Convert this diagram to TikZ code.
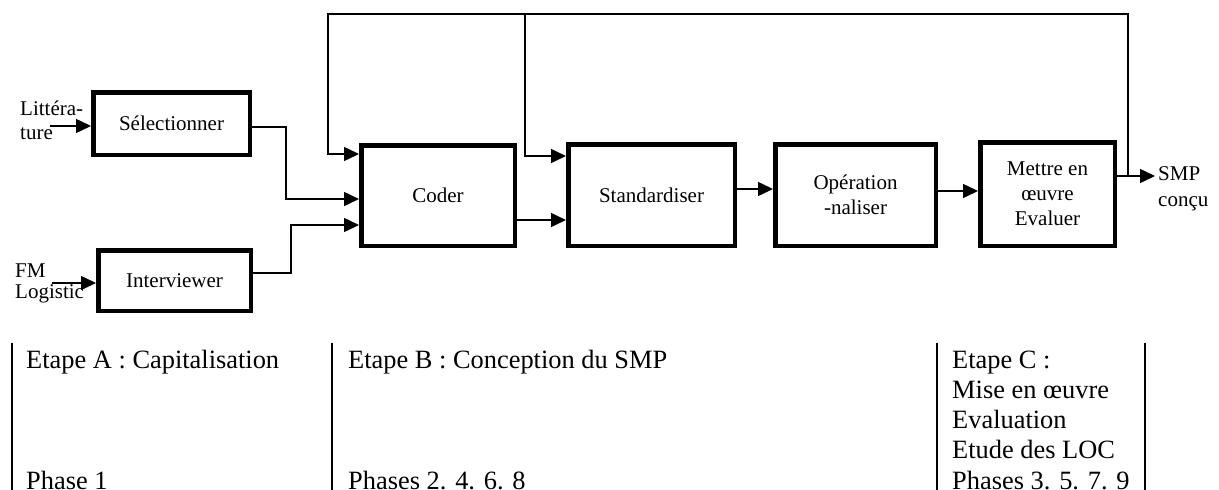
\documentclass[tikz,border=0pt]{standalone}
\usepackage{fontspec}
\setmainfont{Liberation Serif}
\usetikzlibrary{arrows.meta}
\tikzset{
 box/.style={draw, line width=4.5pt, inner sep=0pt, align=center, font=\fontsize{21}{25}\selectfont},
 conn/.style={line width=1.5pt, -{Triangle[length=15pt,width=14pt]}},
 wire/.style={line width=1.5pt},
 lbl/.style={inner sep=0pt, anchor=base west, font=\fontsize{21}{24}\selectfont},
 btxt/.style={inner sep=0pt, anchor=base west, font=\fontsize{26.4}{30}\selectfont},
 sepline/.style={line width=1.8pt}
}
\begin{document}
\begin{tikzpicture}[x=1pt,y=-1pt]
\useasboundingbox (0,0) rectangle (1219,490);
% boxes
\node[box, minimum width=156.5pt, minimum height=62.5pt] (sel) at (171.5,123.5) {Sélectionner};
\node[box, minimum width=152.5pt, minimum height=60.5pt] (int) at (174.5,280.5) {Interviewer};
\node[box, minimum width=153.5pt, minimum height=100.5pt] (coder) at (438,195.5) {Coder};
\node[box, minimum width=166.5pt, minimum height=101.5pt] (std) at (651.5,195) {Standardiser};
\node[box, minimum width=160.5pt, minimum height=101.5pt] (op) at (855.5,195) {Opération\\-naliser};
\node[box, minimum width=134.5pt, minimum height=103.5pt] (met) at (1047.5,194) {\raisebox{-3pt}{\parbox{130pt}{\centering Mettre en\\œuvre\\Evaluer}}};
% input labels
\node[lbl] (lit1) at (20,115) {Littéra-};
\node[lbl] (lit2) at (20,139) {ture};
\node[lbl] (fm1) at (15,277) {FM};
\node[lbl] (fm2) at (15,298) {Logistic};
\node[lbl] (smp1) at (1158,180) {SMP};
\node[lbl] (smp2) at (1158,206) {conçu};
% inputs
\coordinate (litin) at (50,126);
\coordinate (fmin) at (52,283);
\draw[conn] (litin) -- (sel.west |- litin);
\draw[conn] (fmin) -- (int.west |- fmin);
% to coder
\draw[conn] (sel.east |- 0,127) -| (286,199) -- (coder.west |- 0,199);
\draw[conn] (int.east |- 0,273) -| (291,225) -- (coder.west |- 0,225);
% chain
\draw[conn] (coder.east |- 0,220) -- (std.west |- 0,220);
\draw[conn] (std.east |- 0,189) -- (op.west |- 0,189);
\draw[conn] (op.east |- 0,191) -- (met.west |- 0,191);
% output
\coordinate (smpout) at (1155,176);
\coordinate (fb) at (1128,176);
\draw[conn] (met.east |- smpout) -- (smpout);
% feedback
\coordinate (fbl) at (328,14);
\coordinate (fbm) at (525,14);
\draw[conn] (fb) |- (fbl) |- (coder.west |- 0,154);
\draw[conn] (fbm) |- (std.west |- 0,156);
% bottom separators
\coordinate (s1t) at (12,343); \coordinate (s1b) at (12,490);
\coordinate (s2t) at (332,343); \coordinate (s2b) at (332,490);
\coordinate (s3t) at (937,343); \coordinate (s3b) at (937,490);
\coordinate (s4t) at (1145,343); \coordinate (s4b) at (1145,490);
\draw[sepline] (s1t) -- (s1b);
\draw[sepline] (s2t) -- (s2b);
\draw[sepline] (s3t) -- (s3b);
\draw[sepline] (s4t) -- (s4b);
% bottom text
\node[btxt] (ea) at (26,368) {Etape A : Capitalisation};
\node[btxt] (pa) at (26,489) {Phase 1};
\node[btxt] (eb) at (348,368) {Etape B : Conception du SMP};
\node[btxt] (pb) at (348,489) {Phases 2. 4. 6. 8};
\node[btxt] (ec1) at (952,368) {Etape C :};
\node[btxt] (ec2) at (952,398) {Mise en œuvre};
\node[btxt] (ec3) at (952,428) {Evaluation};
\node[btxt] (ec4) at (952,458) {Etude des LOC};
\node[btxt] (ec5) at (952,489) {Phases 3. 5. 7. 9};
\end{tikzpicture}
\end{document}
